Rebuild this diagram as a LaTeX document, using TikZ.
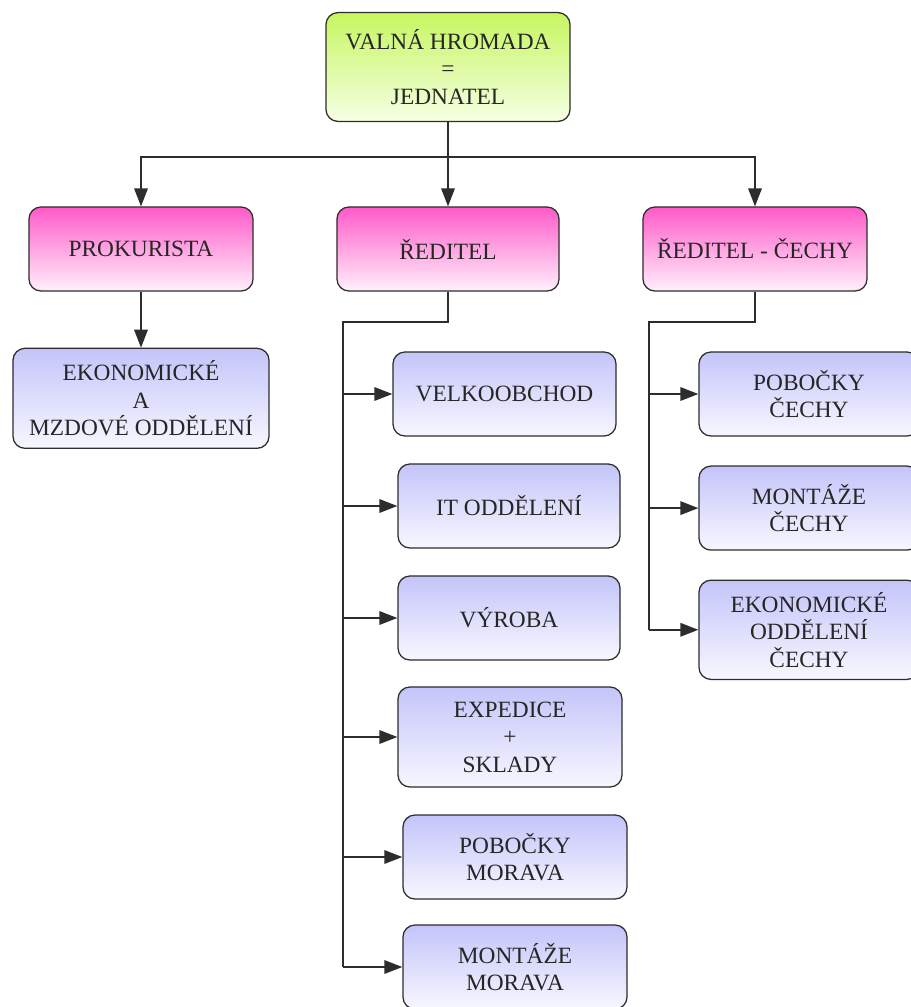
\documentclass[tikz,border=0pt]{standalone}
\usepackage{fontspec}
\setmainfont{Liberation Serif}
\usetikzlibrary{arrows.meta, positioning}

\definecolor{jedgreen}{RGB}{198,246,96}
\definecolor{jedlight}{RGB}{246,255,228}
\definecolor{vedpink}{RGB}{255,90,200}
\definecolor{vedlight}{RGB}{255,240,252}
\definecolor{oddblue}{RGB}{196,196,250}
\definecolor{oddlight}{RGB}{247,247,255}
\definecolor{linegray}{RGB}{45,45,45}

\tikzset{
  box/.style={draw=linegray, line width=0.9pt, rounded corners=0.3cm, align=center,
    font=\fontsize{16.6}{19.5}\selectfont, text=black!85, inner sep=0pt,
    minimum width=5.6cm, minimum height=2.1cm},
  boss/.style={box, top color=jedgreen, bottom color=jedlight},
  head/.style={box, top color=vedpink, bottom color=vedlight},
  dept/.style={box, top color=oddblue, bottom color=oddlight},
  link/.style={draw=linegray, line width=1pt},
  arr/.style={link, -{Triangle[length=0.45cm,width=0.34cm]}},
}

\begin{document}
\begin{tikzpicture}[x=0.025cm, y=-0.025cm]
\useasboundingbox (0,0) rectangle (911,1007);

\node[boss, minimum width=6.1cm, minimum height=2.72cm] (jed) at (448,67) {VALNÁ HROMADA\\=\\JEDNATEL};

\node[head] (prok) at (141,249) {PROKURISTA};
\node[head, minimum width=5.55cm] (red) at (448,249) {ŘEDITEL};
\node[head] (redc) at (755,249) {ŘEDITEL - ČECHY};

\node[dept, below=1.4cm of prok, minimum width=6.4cm, minimum height=2.5cm] (ekon) {EKONOMICKÉ\\A\\MZDOVÉ ODDĚLENÍ};

% reditel
\node[dept, minimum width=5.575cm] (velko) at (504.5,394) {VELKOOBCHOD};
\node[dept, minimum width=5.55cm] (it) at (509,506) {IT ODDĚLENÍ};
\node[dept, minimum width=5.55cm] (vyroba) at (509,618) {VÝROBA};
\node[dept, minimum height=2.5cm] (exped) at (510,737) {EXPEDICE\\+\\SKLADY};
\node[dept] (pobm) at (515,857) {POBOČKY\\MORAVA};
\node[dept] (montm) at (515,967) {MONTÁŽE\\MORAVA};

% reditel - cechy
\node[dept, minimum width=5.5cm] (pobc) at (809,394) {POBOČKY\\ČECHY};
\node[dept, minimum width=5.5cm, below=0.72cm of pobc] (montc) {MONTÁŽE\\ČECHY};
\node[dept, minimum width=5.5cm, minimum height=2.48cm, below=0.72cm of montc] (ekonc) {EKONOMICKÉ\\ODDĚLENÍ\\ČECHY};

\coordinate (bus) at (448,157);
\draw[link] (jed.south) -- (bus);
\draw[arr] (bus) -| (prok.north);
\draw[arr] (bus) -- (red.north);
\draw[arr] (bus) -| (redc.north);
\draw[arr] (prok) -- (ekon);

\coordinate (rtrunk) at (343,322);
\draw[link] (red.south) |- (rtrunk) -- (rtrunk |- montm.west);
\foreach \n in {velko,it,vyroba,exped,pobm,montm}
  \draw[arr] (rtrunk |- \n.west) -- (\n.west);

\coordinate (ctrunk) at (649,322);
\draw[link] (redc.south) |- (ctrunk) -- (ctrunk |- ekonc.west);
\foreach \n in {pobc,montc,ekonc}
  \draw[arr] (ctrunk |- \n.west) -- (\n.west);
\end{tikzpicture}
\end{document}
